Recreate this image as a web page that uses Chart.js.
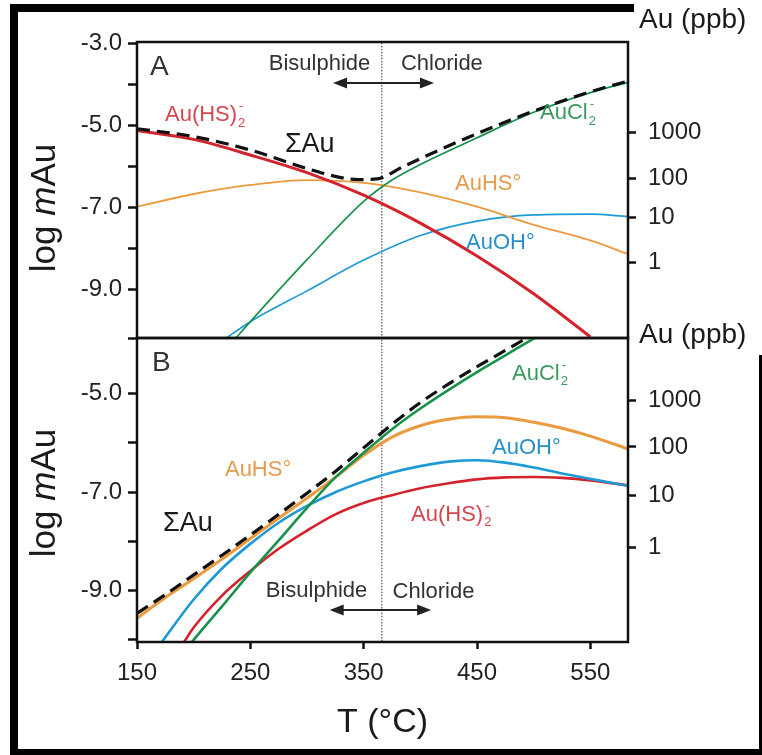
<!DOCTYPE html>
<html lang="en">
<head>
<meta charset="UTF-8">
<title>Au speciation vs temperature</title>
<script src="https://cdn.jsdelivr.net/npm/chart.js"></script>
<style>
  html, body { margin: 0; padding: 0; background: #fff; }
  body { width: 762px; height: 755px; position: relative; overflow: hidden; }
  canvas { position: absolute; left: 0; top: 0; }
  .frame { position: absolute; background: #000; }
</style>
</head>
<body>
<canvas id="chartA" width="762" height="755"></canvas>
<canvas id="chartB" width="762" height="755"></canvas>
<div class="frame" style="left:10px;top:4px;width:624px;height:8px"></div>
<div class="frame" style="left:10px;top:4px;width:8px;height:751px"></div>
<div class="frame" style="left:10px;top:749px;width:752px;height:6px"></div>
<div class="frame" style="left:759px;top:355px;width:3px;height:400px"></div>
<script>
const ff = '"Liberation Sans", Arial, sans-serif';

// ---- panel A: T (°C) and log mAu ----
const tA_AuHS2 = [150, 200, 250, 300, 350, 400, 450, 500, 550];
const logA_AuHS2 = [-5.12, -5.34, -5.72, -6.15, -6.70, -7.38, -8.18, -9.10, -10.15];
const tA_AuHS = [150, 200, 250, 300, 350, 400, 450, 500, 550, 583];
const logA_AuHS = [-6.98, -6.67, -6.45, -6.33, -6.40, -6.63, -6.98, -7.42, -7.80, -8.13];
const tA_AuCl2 = [235, 250, 300, 350, 375, 400, 450, 500, 550, 583];
const logA_AuCl2 = [-10.25, -9.78, -8.27, -6.85, -6.33, -5.95, -5.30, -4.68, -4.20, -3.95];
const tA_AuOH = [225, 250, 300, 350, 400, 450, 500, 550, 583];
const logA_AuOH = [-10.25, -9.78, -9.03, -8.28, -7.68, -7.33, -7.18, -7.16, -7.22];
const tA_sum = [150, 200, 250, 300, 330, 345, 362, 385, 415, 450, 500, 550, 583];
const logA_sum = [-5.08, -5.27, -5.60, -6.05, -6.27, -6.32, -6.30, -6.00, -5.62, -5.20, -4.65, -4.18, -3.92];

// ---- panel B ----
const tB_AuHS = [150, 175, 200, 225, 250, 275, 300, 325, 350, 375, 400, 425, 450, 475, 500, 525, 550, 583];
const logB_AuHS = [-9.56, -9.14, -8.76, -8.36, -7.94, -7.53, -7.12, -6.70, -6.25, -5.88, -5.65, -5.52, -5.47, -5.49, -5.58, -5.70, -5.86, -6.12];
const tB_AuOH = [170, 200, 225, 250, 275, 300, 325, 350, 375, 400, 425, 450, 475, 500, 525, 550, 583];
const logB_AuOH = [-10.10, -9.18, -8.55, -8.05, -7.62, -7.28, -7.00, -6.78, -6.60, -6.47, -6.38, -6.35, -6.40, -6.50, -6.62, -6.73, -6.87];
const tB_AuHS2 = [190, 200, 225, 250, 275, 300, 325, 350, 375, 400, 425, 450, 475, 500, 525, 550, 583];
const logB_AuHS2 = [-10.10, -9.75, -9.10, -8.60, -8.15, -7.78, -7.45, -7.22, -7.06, -6.92, -6.82, -6.74, -6.70, -6.69, -6.71, -6.76, -6.86];
const tB_AuCl2 = [196, 200, 225, 250, 275, 300, 325, 350, 375, 400, 425, 450, 475, 500, 525];
const logB_AuCl2 = [-10.12, -10.00, -9.32, -8.63, -7.98, -7.32, -6.70, -6.20, -5.72, -5.30, -4.92, -4.56, -4.22, -3.88, -3.55];
const tB_sum = [150, 175, 200, 225, 250, 275, 300, 325, 350, 375, 400, 425, 450, 475, 500, 525];
const logB_sum = [-9.46, -9.08, -8.68, -8.28, -7.87, -7.45, -7.02, -6.58, -6.10, -5.62, -5.18, -4.80, -4.45, -4.12, -3.79, -3.47];

// axis ticks
const xTicks = [150, 250, 350, 450, 550];
const yTicksA = [-3, -4, -5, -6, -7, -8, -9];
const yTicksB = [-5, -6, -7, -8, -9, -10];
const ppbLabels = ['1000', '100', '10', '1'];
const ppbLogA = [-5.18, -6.30, -7.25, -8.33];
const ppbLogB = [-5.13, -6.08, -7.06, -8.13];

const splitT = 366; // bisulphide / chloride boundary

const RED = '#d3232d', ORANGE = '#ec9a3e', GREEN = '#17924a', BLUE = '#1d9ad6';

const pts = (ts, vs) => ts.map((t, i) => ({x: t, y: vs[i]}));
function line(ts, vs, color, width, dash) {
  return {
    data: pts(ts, vs), borderColor: color, borderWidth: width, borderDash: dash || [],
    pointRadius: 0, fill: false, cubicInterpolationMode: 'monotone'
  };
}

function richLabel(ctx, x, y, lab) {
  const size = lab.size || 22;
  ctx.fillStyle = lab.color;
  ctx.textBaseline = 'alphabetic';
  ctx.font = size + 'px ' + ff;
  let w = ctx.measureText(lab.text).width;
  let x0 = lab.align === 'center' ? x - w / 2 : x;
  const base = y + size * 0.36;
  ctx.textAlign = 'left';
  ctx.fillText(lab.text, x0, base);
  if (lab.sub || lab.sup) {
    ctx.font = Math.round(size * 0.58) + 'px ' + ff;
    if (lab.sub) ctx.fillText(lab.sub, x0 + w + 1, base + size * 0.25);
    if (lab.sup) ctx.fillText(lab.sup, x0 + w + 2, base - size * 0.5);
  }
}

function drawArrow(ctx, x1, x2, y) {
  ctx.strokeStyle = '#222'; ctx.fillStyle = '#222'; ctx.lineWidth = 2;
  ctx.beginPath(); ctx.moveTo(x1 + 8, y); ctx.lineTo(x2 - 8, y); ctx.stroke();
  [[x1, 1], [x2, -1]].forEach(([x, d]) => {
    ctx.beginPath(); ctx.moveTo(x, y); ctx.lineTo(x + d * 14, y - 5.5); ctx.lineTo(x + d * 14, y + 5.5);
    ctx.closePath(); ctx.fill();
  });
}

const panelDecor = {
  id: 'panelDecor',
  afterDraw(chart, args, o) {
    const {ctx, chartArea: a, scales: {x, y}} = chart;
    ctx.save();
    ctx.strokeStyle = '#111'; ctx.lineWidth = 2.5;
    ctx.strokeRect(a.left, a.top, a.right - a.left, a.bottom - a.top);
    drawArrow(ctx, x.getPixelForValue(o.arrow[0]), x.getPixelForValue(o.arrow[1]), y.getPixelForValue(o.arrow[2]));
    o.labels.forEach(l => richLabel(ctx, x.getPixelForValue(l.t), y.getPixelForValue(l.v), l));
    // left title: log mAu with italic m
    ctx.translate(45, o.titleY); ctx.rotate(-Math.PI / 2);
    const parts = [['log ', ''], ['m', 'italic '], ['Au', '']];
    let total = 0;
    parts.forEach(p => { ctx.font = p[1] + '35px ' + ff; total += ctx.measureText(p[0]).width; });
    let px = -total / 2;
    ctx.fillStyle = '#1a1a1a'; ctx.textBaseline = 'middle'; ctx.textAlign = 'left';
    parts.forEach(p => { ctx.font = p[1] + '35px ' + ff; ctx.fillText(p[0], px, 0); px += ctx.measureText(p[0]).width; });
    ctx.setTransform(1, 0, 0, 1, 0, 0);
    ctx.font = '28px ' + ff; ctx.fillStyle = '#1a1a1a'; ctx.textBaseline = 'alphabetic';
    ctx.fillText('Au (ppb)', a.right + 11, o.ppbBase);
    ctx.restore();
  }
};

const tickFont = {family: ff, size: 24};

function makeChart(id, cfg) {
  const minY = cfg.minY, maxY = cfg.maxY;
  return new Chart(document.getElementById(id), {
    type: 'line',
    data: {
      datasets: cfg.datasets.concat([
        line([splitT, splitT], [maxY + 1, minY - 1], '#555', 1.2, [1.5, 1.5])
      ])
    },
    options: {
      responsive: false, animation: false, events: [],
      layout: {padding: cfg.padding},
      plugins: {legend: {display: false}, tooltip: {enabled: false}, panelDecor: cfg.decor},
      scales: {
        x: {
          type: 'linear', min: 150, max: 583.2, display: cfg.showX,
          afterBuildTicks: s => { s.ticks = xTicks.map(v => ({value: v})); },
          afterFit: s => { s.height = cfg.showX ? 113 : 0; },
          ticks: {font: tickFont, color: '#222', padding: 10, autoSkip: false, maxRotation: 0},
          grid: {drawOnChartArea: false, tickLength: 7, tickWidth: 2.5, color: '#111'},
          border: {display: false},
          title: {display: true, text: 'T (°C)', font: {family: ff, size: 34}, color: '#1a1a1a', padding: {top: 0, bottom: 12}}
        },
        y: {
          type: 'linear', position: 'left', min: minY, max: maxY,
          afterBuildTicks: s => { s.ticks = cfg.yTicks.map(v => ({value: v})); },
          afterFit: s => { s.width = 137; },
          ticks: {font: tickFont, color: '#222', padding: 6, autoSkip: false,
                  callback: v => (Math.abs(v) % 2 === 1 ? v.toFixed(1) : '')},
          grid: {drawOnChartArea: false, tickLength: 9, tickWidth: 2.5, color: '#111'},
          border: {display: false}
        },
        y2: {
          type: 'linear', position: 'right', min: minY, max: maxY,
          afterBuildTicks: s => { s.ticks = cfg.ppbLog.map(v => ({value: v})); },
          afterFit: s => { s.width = 134; },
          ticks: {font: tickFont, color: '#222', padding: 12, autoSkip: false,
                  callback: (v, i) => ppbLabels[i]},
          grid: {drawOnChartArea: false, tickLength: 8, tickWidth: 2.5, color: '#111'},
          border: {display: false}
        }
      }
    },
    plugins: [panelDecor]
  });
}

const minA = -10.178, maxA = -2.967;
makeChart('chartA', {
  minY: minA, maxY: maxA, showX: false,
  padding: {top: 42, bottom: 417, left: 0, right: 0},
  yTicks: yTicksA.concat([minA]), ppbLog: ppbLogA,
  datasets: [
    line(tA_sum, logA_sum, '#111', 3.2, [13, 7]),
    line(tA_AuHS2, logA_AuHS2, RED, 3),
    line(tA_AuCl2, logA_AuCl2, GREEN, 1.7),
    line(tA_AuHS, logA_AuHS, ORANGE, 1.8),
    line(tA_AuOH, logA_AuOH, BLUE, 1.7)
  ],
  decor: {
    titleY: 208, ppbBase: 28,
    arrow: [323, 412, -3.966],
    labels: [
      {text: 'A', t: 161.5, v: -3.53, size: 28, color: '#333'},
      {text: 'Bisulphide', t: 311, v: -3.455, align: 'center', color: '#333'},
      {text: 'Chloride', t: 419, v: -3.455, align: 'center', color: '#333'},
      {text: 'Au(HS)', sub: '2', sup: '-', t: 174.7, v: -4.70, color: '#d7454f'},
      {text: 'ΣAu', t: 280.5, v: -5.40, size: 27, color: '#1a1a1a'},
      {text: 'AuCl', sub: '2', sup: '-', t: 505.6, v: -4.65, color: '#3a9a5e'},
      {text: 'AuHS°', t: 430.6, v: -6.38, color: '#e59a4c'},
      {text: 'AuOH°', t: 440.3, v: -7.81, color: '#2790c9'}
    ]
  }
});

const minB = -10.043, maxB = -3.868;
makeChart('chartB', {
  minY: minB, maxY: maxB, showX: true,
  padding: {top: 338, bottom: 0, left: 0, right: 0},
  yTicks: yTicksB, ppbLog: ppbLogB,
  datasets: [
    line(tB_sum, logB_sum, '#111', 3.2, [13, 7]),
    line(tB_AuCl2, logB_AuCl2, GREEN, 2.6),
    line(tB_AuHS, logB_AuHS, ORANGE, 3),
    line(tB_AuOH, logB_AuOH, BLUE, 2.6),
    line(tB_AuHS2, logB_AuHS2, RED, 2.6)
  ],
  decor: {
    titleY: 493, ppbBase: 343,
    arrow: [320, 409.5, -9.393],
    labels: [
      {text: 'B', t: 163.2, v: -4.335, size: 28, color: '#333'},
      {text: 'AuCl', sub: '2', sup: '-', t: 480.9, v: -4.559, color: '#3a9a5e'},
      {text: 'AuHS°', t: 227.6, v: -6.509, color: '#e59a4c'},
      {text: 'AuOH°', t: 463.2, v: -6.062, color: '#2790c9'},
      {text: 'ΣAu', t: 172.9, v: -7.585, size: 27, color: '#1a1a1a'},
      {text: 'Au(HS)', sub: '2', sup: '-', t: 391.8, v: -7.423, color: '#d7454f'},
      {text: 'Bisulphide', t: 308.4, v: -8.967, align: 'center', color: '#333'},
      {text: 'Chloride', t: 411.6, v: -8.987, align: 'center', color: '#333'}
    ]
  }
});
</script>
</body>
</html>
